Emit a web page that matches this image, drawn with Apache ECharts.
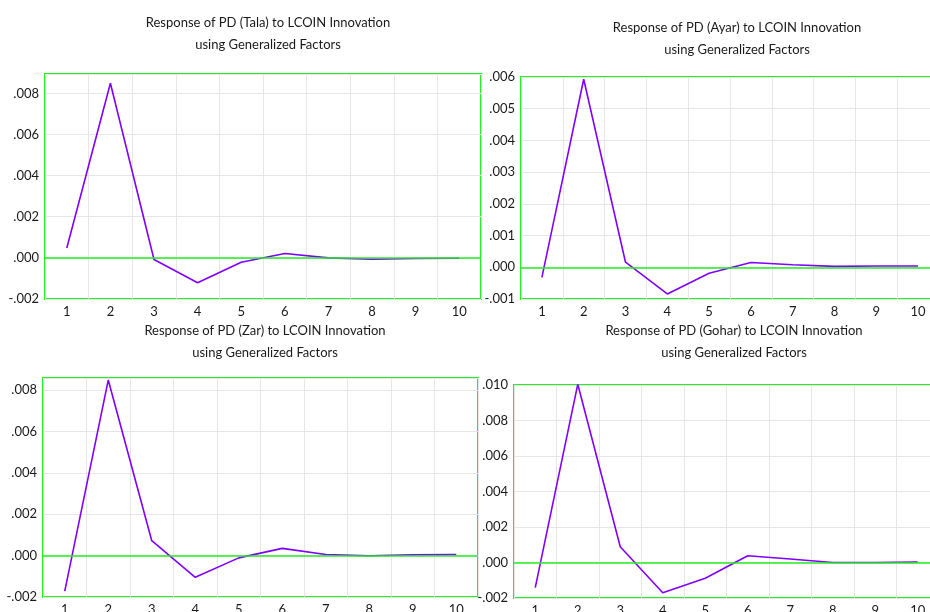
<!DOCTYPE html>
<html>
<head>
<meta charset="utf-8">
<script src="https://cdn.jsdelivr.net/npm/echarts@6/dist/echarts.min.js"></script>
<style>
  html, body { margin: 0; padding: 0; background: #fff; }
  #main { width: 930px; height: 612px; }
</style>
</head>
<body>
<div id="main"></div>
<script>
// periods on the x axis
const periods = ['1', '2', '3', '4', '5', '6', '7', '8', '9', '10'];

// impulse responses
const tala  = [0.00048, 0.00849, -0.00008, -0.00121, -0.00021, 0.00021, 0.00000, -0.00007, -0.00003, -0.00002];
const ayar  = [-0.00032, 0.00593, 0.00016, -0.00084, -0.00019, 0.00015, 0.00008, 0.00003, 0.00004, 0.00004];
const zar   = [-0.00172, 0.00848, 0.00072, -0.00105, -0.00011, 0.00035, 0.00005, -0.00001, 0.00004, 0.00005];
const gohar = [-0.00142, 0.01004, 0.00089, -0.00170, -0.00089, 0.00038, 0.00020, 0.00000, 0.00000, 0.00003];

const titles = [
  'Response of PD (Tala) to LCOIN Innovation\nusing Generalized Factors',
  'Response of PD (Ayar) to LCOIN Innovation\nusing Generalized Factors',
  'Response of PD (Zar) to LCOIN Innovation\nusing Generalized Factors',
  'Response of PD (Gohar) to LCOIN Innovation\nusing Generalized Factors'
];

const panels = [
  {data: tala,  min: -0.002, max: 0.00894, step: 0.002, grid: {left: 45,  top: 74,  width: 436, height: 225}, tx: 263, ty: 7},
  {data: ayar,  min: -0.001, max: 0.006,   step: 0.001, grid: {left: 521, top: 77,  width: 418, height: 222}, tx: 732, ty: 12},
  {data: zar,   min: -0.002, max: 0.00858, step: 0.002, grid: {left: 43,  top: 378, width: 435, height: 219}, tx: 260, ty: 315},
  {data: gohar, min: -0.002, max: 0.010,   step: 0.002, grid: {left: 514, top: 385, width: 425, height: 213}, tx: 729, ty: 315}
];

const FONT = 'Lato';
const GREEN = '#22ee22';
const PURPLE = '#8000ff';

function fmt(step) {
  return function (v) {
    const k = Math.round(v / step);
    if (Math.abs(v - k * step) > step * 1e-3) return '';
    return v.toFixed(3).replace('0.', '.');
  };
}

const option = {
  animation: false,
  backgroundColor: '#fff',
  title: panels.map((p, i) => ({
    text: titles[i],
    left: p.tx, top: p.ty,
    textAlign: 'center',
    textStyle: {fontFamily: FONT, fontSize: 13, fontWeight: 'normal', color: '#1a1a1a', lineHeight: 22}
  })),
  grid: panels.map(p => Object.assign({
    show: true, borderColor: GREEN, borderWidth: 2, backgroundColor: 'transparent',
    outerBoundsMode: 'none', containLabel: false
  }, p.grid)),
  xAxis: panels.map((p, i) => ({
    type: 'category', gridIndex: i, data: periods, boundaryGap: true,
    axisLine: {show: false}, axisTick: {show: false},
    axisLabel: {fontFamily: FONT, fontSize: 13, color: '#1a1a1a', margin: 6},
    splitLine: {show: true, lineStyle: {color: '#e6e6e6', width: 1}}
  })),
  yAxis: panels.map((p, i) => ({
    type: 'value', gridIndex: i, min: p.min, max: p.max, interval: p.step,
    axisLine: {show: false}, axisTick: {show: false},
    axisLabel: {fontFamily: FONT, fontSize: 13, color: '#1a1a1a', margin: 6, formatter: fmt(p.step)},
    splitLine: {show: true, lineStyle: {color: '#e6e6e6', width: 1}}
  })),
  series: panels.map((p, i) => ({
    type: 'line', xAxisIndex: i, yAxisIndex: i, data: p.data,
    symbol: 'none', lineStyle: {color: PURPLE, width: 1.6},
    markLine: {
      silent: true, symbol: 'none', label: {show: false},
      lineStyle: {color: GREEN, width: 1.5, type: 'solid'},
      data: [{yAxis: 0}]
    }
  }))
};

const chart = echarts.init(document.getElementById('main'), null, {renderer: 'canvas'});
chart.setOption(option);
</script>
</body>
</html>
